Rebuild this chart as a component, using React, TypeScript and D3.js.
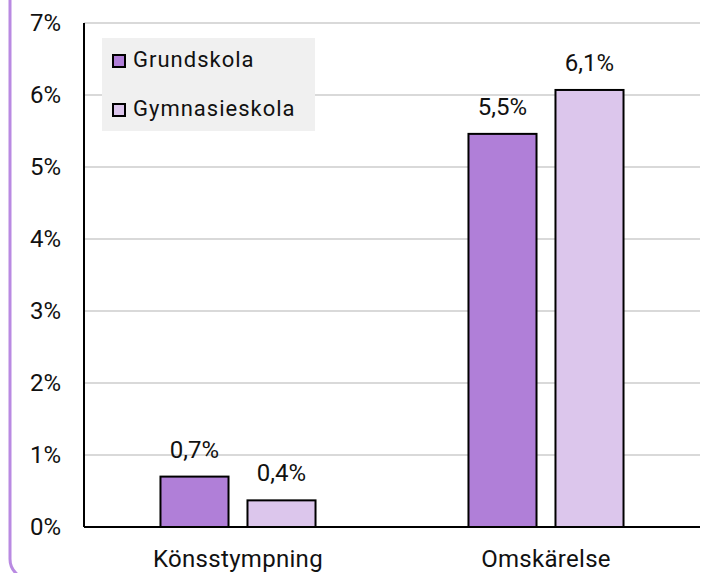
import React from 'react';
import * as d3 from 'd3';

const categories = ['Könsstympning', 'Omskärelse'];
const seriesNames = ['Grundskola', 'Gymnasieskola'];
const grundskola = [0.7, 5.46];
const gymnasieskola = [0.37, 6.07];
const yTicks = [0, 1, 2, 3, 4, 5, 6, 7];

const colors = ['#b07fd8', '#dcc6ec'];

const width = 712;
const height = 573;
const margin = { top: 23, right: 12, bottom: 46, left: 84 };

const App = () => {
  const series = [grundskola, gymnasieskola];

  // category bands over the plot width
  const x = d3
    .scaleBand()
    .domain(categories)
    .range([margin.left, width - margin.right])
    .paddingInner(0)
    .paddingOuter(0);

  // bars inside each category
  const xs = d3
    .scaleBand()
    .domain(seriesNames)
    .range([0, x.bandwidth()])
    .paddingInner(0.218)
    .paddingOuter(0.879);

  const y = d3
    .scaleLinear()
    .domain([0, 7])
    .range([height - margin.bottom, margin.top]);

  const fmt = (v: number) => d3.format('.1f')(v).replace('.', ',') + '%';
  const font = 'Roboto, sans-serif';

  return (
    <svg
      width={width}
      height={height}
      style={{ position: 'absolute', left: 0, top: 0, background: '#fff' }}
      fontFamily={font}
    >
      {/* card border on the left */}
      <rect
        x={10}
        y={-30}
        width={800}
        height={609}
        rx={20}
        fill="none"
        stroke="#b98ae2"
        strokeWidth={3}
      />

      {/* gridlines */}
      {yTicks.slice(1).map(t => (
        <line
          key={t}
          x1={margin.left}
          x2={width - margin.right}
          y1={y(t)}
          y2={y(t)}
          stroke="#d9d9d9"
          strokeWidth={2}
        />
      ))}

      {/* y tick labels */}
      {yTicks.map(t => (
        <text
          key={t}
          x={61}
          y={y(t) + 8}
          textAnchor="end"
          fontSize={24}
          fill="#111"
        >
          {t}%
        </text>
      ))}

      {/* bars */}
      {categories.map((c, i) => (
        <g key={c} transform={`translate(${x(c)},0)`}>
          {seriesNames.map((s, j) => {
            const v = series[j][i];
            const bx = xs(s) as number;
            return (
              <g key={s}>
                <rect
                  x={bx}
                  y={y(v)}
                  width={xs.bandwidth()}
                  height={y(0) - y(v)}
                  fill={colors[j]}
                  stroke="#000"
                  strokeWidth={2}
                />
                <text
                  x={bx + xs.bandwidth() / 2}
                  y={y(v) - 19}
                  textAnchor="middle"
                  fontSize={24}
                  fill="#111"
                >
                  {fmt(v)}
                </text>
              </g>
            );
          })}
          <text
            x={x.bandwidth() / 2}
            y={567}
            textAnchor="middle"
            fontSize={24}
            fill="#111"
            letterSpacing={0.3}
          >
            {c}
          </text>
        </g>
      ))}

      {/* axes */}
      <line
        x1={margin.left}
        x2={margin.left}
        y1={margin.top}
        y2={y(0)}
        stroke="#000"
        strokeWidth={2}
      />
      <line
        x1={margin.left}
        x2={width - margin.right}
        y1={y(0)}
        y2={y(0)}
        stroke="#000"
        strokeWidth={2}
      />

      {/* legend */}
      <g>
        <rect x={102} y={38} width={213} height={93} fill="#f0f0f0" />
        {seriesNames.map((s, j) => (
          <g key={s} transform={`translate(112,${54 + j * 49})`}>
            <rect
              x={1}
              y={1}
              width={12}
              height={12}
              fill={colors[j]}
              stroke="#000"
              strokeWidth={2}
            />
            <text x={21} y={13} fontSize={22} fill="#111" letterSpacing={1}>
              {s}
            </text>
          </g>
        ))}
      </g>
    </svg>
  );
};

export default App;
